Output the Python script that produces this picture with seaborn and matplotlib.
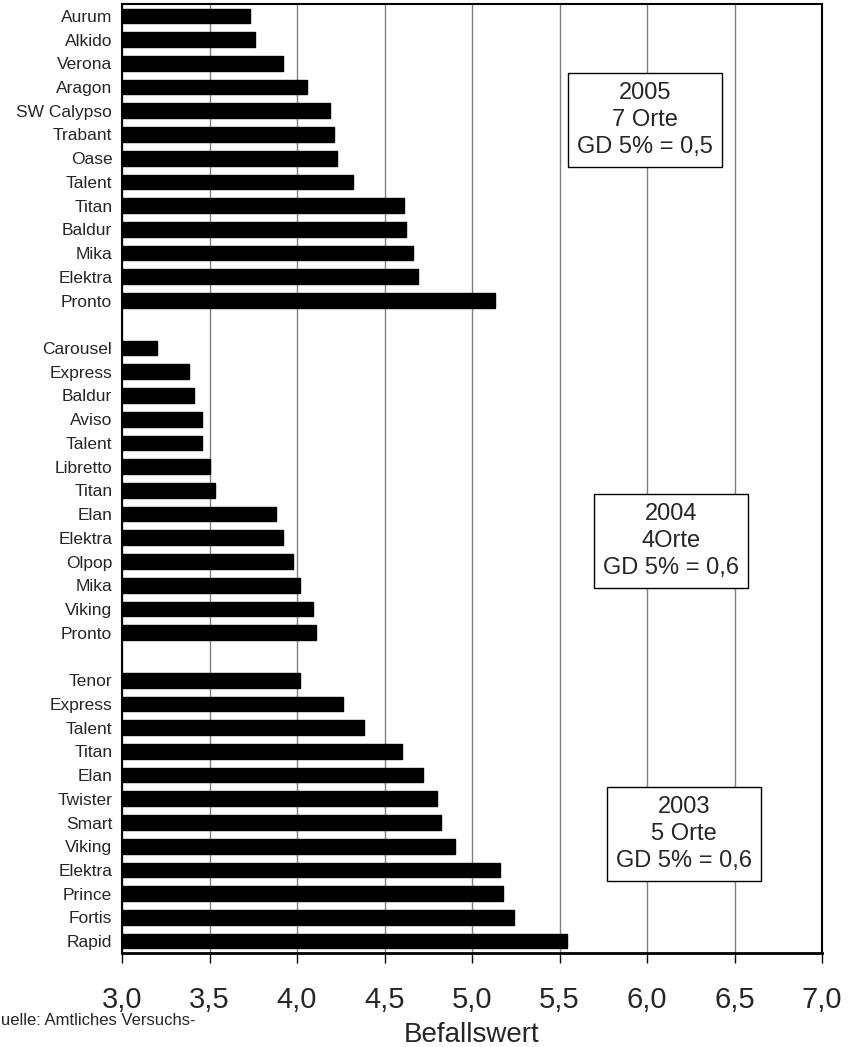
import matplotlib
matplotlib.use("Agg")
import matplotlib.pyplot as plt
import seaborn as sns
import pandas as pd
import numpy as np

# ---- data ----
sorten_2005 = ["Aurum", "Alkido", "Verona", "Aragon", "SW Calypso", "Trabant", "Oase",
               "Talent", "Titan", "Baldur", "Mika", "Elektra", "Pronto"]
werte_2005 = [3.73, 3.76, 3.92, 4.06, 4.19, 4.21, 4.23, 4.32, 4.61, 4.62, 4.66, 4.69, 5.13]

sorten_2004 = ["Carousel", "Express", "Baldur", "Aviso", "Talent", "Libretto", "Titan",
               "Elan", "Elektra", "Olpop", "Mika", "Viking", "Pronto"]
werte_2004 = [3.20, 3.38, 3.41, 3.455, 3.455, 3.50, 3.53, 3.88, 3.92, 3.975, 4.02, 4.09, 4.11]

sorten_2003 = ["Tenor", "Express", "Talent", "Titan", "Elan", "Twister", "Smart", "Viking",
               "Elektra", "Prince", "Fortis", "Rapid"]
werte_2003 = [4.02, 4.26, 4.38, 4.60, 4.72, 4.80, 4.82, 4.90, 5.16, 5.18, 5.24, 5.54]

box_texte = ["2005\n7 Orte\nGD 5% = 0,5", "2004\n4Orte\nGD 5% = 0,6", "2003\n5 Orte\nGD 5% = 0,6"]
x_ticks = [3.0, 3.5, 4.0, 4.5, 5.0, 5.5, 6.0, 6.5, 7.0]
x_label = "Befallswert"
quelle = "Quelle: Amtliches Versuchs-"

# ---- build table (groups separated by one empty row) ----
rows = []
pos = 0
for sorten, werte in [(sorten_2005, werte_2005), (sorten_2004, werte_2004), (sorten_2003, werte_2003)]:
    for s, w in zip(sorten, werte):
        rows.append({"pos": pos, "sorte": s, "wert": w})
        pos += 1
    pos += 1
df = pd.DataFrame(rows)
n_rows = pos - 1

sns.set_style("white")
plt.rcParams["font.family"] = ["Liberation Sans", "DejaVu Sans"]

fig = plt.figure(figsize=(8.5, 10.47), dpi=100)
ax = fig.add_axes([122 / 850, 1 - 953 / 1047, 700 / 850, 949 / 1047])

sns.barplot(data=df, x="wert", y="pos", orient="h", native_scale=True,
            color="black", saturation=1, width=0.62, ax=ax, zorder=3)
# bars start from 3.0 (axis origin)
for p in ax.patches:
    x0 = p.get_x()
    w = p.get_width()
    p.set_x(3.0)
    p.set_width(x0 + w - 3.0)
    p.set_edgecolor("black")

ax.set_xlim(3.0, 7.0)
ax.set_ylim(n_rows - 0.5, -0.5)
ax.set_xticks(x_ticks)
ax.set_xticklabels([f"{t:.1f}".replace(".", ",") for t in x_ticks], fontsize=21)
ax.set_yticks(df["pos"])
ax.set_yticklabels(df["sorte"], fontsize=12.5)
ax.set_xlabel("")
ax.set_ylabel("")
ax.xaxis.grid(True, color="#808080", linewidth=1, zorder=0)
ax.yaxis.grid(False)
ax.set_axisbelow(True)
ax.tick_params(axis="x", direction="out", length=7, width=1, pad=17, color="black", bottom=True)
ax.tick_params(axis="y", length=0, pad=7)
for side in ["top", "right", "left"]:
    ax.spines[side].set_visible(True)
    ax.spines[side].set_color("black")
    ax.spines[side].set_linewidth(1.5)
ax.spines["bottom"].set_color("black")
ax.spines["bottom"].set_linewidth(2)

# annotation boxes
box_pos = [(5.99, 4.4), (6.137, 22.15), (6.21, 34.5)]
for (bx, by), txt in zip(box_pos, box_texte):
    ax.text(bx, by, txt, ha="center", va="center", fontsize=17, linespacing=1.3,
            zorder=5,
            bbox=dict(boxstyle="square,pad=0.38", facecolor="white", edgecolor="black", linewidth=1))

fig.text(472 / 850, 1 - 1042 / 1047, x_label, ha="center", va="baseline", fontsize=20)
fig.text(-12 / 850, 1 - 1025 / 1047, quelle, ha="left", va="baseline", fontsize=12)

fig.savefig("out.png", dpi=100)
